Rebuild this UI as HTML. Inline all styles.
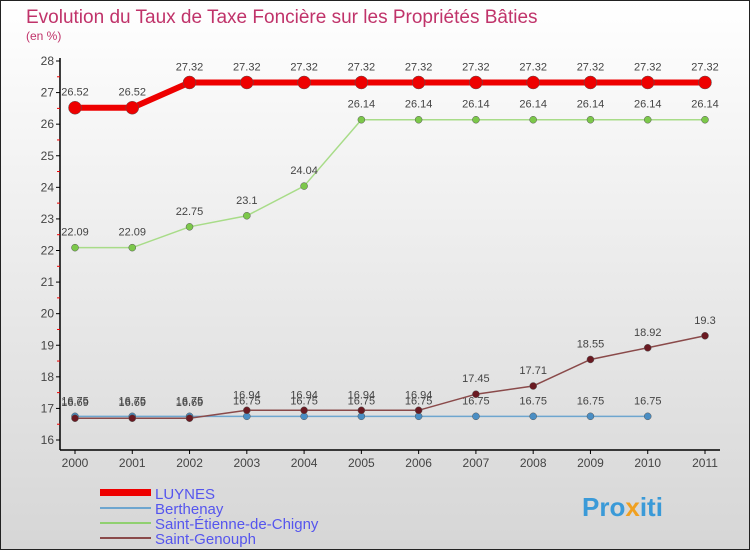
<!DOCTYPE html>
<html><head><meta charset="utf-8"><style>
body{margin:0;width:750px;height:550px;overflow:hidden;font-family:"Liberation Sans",sans-serif}
</style></head><body>
<svg width="750" height="550" xmlns="http://www.w3.org/2000/svg">
<defs><linearGradient id="bg" x1="0" y1="0" x2="0" y2="1"><stop offset="0" stop-color="#ffffff"/><stop offset="1" stop-color="#d6d6d6"/></linearGradient></defs>
<rect x="0.5" y="0.5" width="749" height="549" fill="url(#bg)" stroke="#222"/>
<text x="26" y="23" font-size="19" fill="#c0336a">Evolution du Taux de Taxe Foncière sur les Propriétés Bâties</text>
<text x="26" y="40" font-size="12" fill="#c0336a">(en %)</text>
<g id="axes"></g><g id="series"></g>
<g>
<rect x="100" y="489" width="51" height="7" fill="#e00"/>
<text x="155" y="499" font-size="15" fill="#5555ee">LUYNES</text>
<rect x="100" y="507" width="51" height="2" fill="#6ea6cf"/>
<text x="155" y="514" font-size="15" fill="#5555ee">Berthenay</text>
<rect x="100" y="522" width="51" height="2" fill="#90d070"/>
<text x="155" y="529" font-size="15" fill="#5555ee">Saint-Étienne-de-Chigny</text>
<rect x="100" y="537" width="51" height="2" fill="#8a4a4a"/>
<text x="155" y="544" font-size="15" fill="#5555ee">Saint-Genouph</text>
</g>
<text x="582" y="516" font-size="26" font-weight="bold" fill="#3a9ad8">Pro<tspan fill="#f0a020">x</tspan>iti</text>
</svg>
<script>
const years=[2000,2001,2002,2003,2004,2005,2006,2007,2008,2009,2010,2011];
const yTicks=[16,17,18,19,20,21,22,23,24,25,26,27,28];
const luynes=[26.52,26.52,27.32,27.32,27.32,27.32,27.32,27.32,27.32,27.32,27.32,27.32];
const berthenay=[16.75,16.75,16.75,16.75,16.75,16.75,16.75,16.75,16.75,16.75,16.75,null];
const etienne=[22.09,22.09,22.75,23.1,24.04,26.14,26.14,26.14,26.14,26.14,26.14,26.14];
const genouph=[16.69,16.69,16.69,16.94,16.94,16.94,16.94,17.45,17.71,18.55,18.92,19.3];
const NS="http://www.w3.org/2000/svg";
const X=i=>75+i*(630/11);
const Y=v=>440-(v-16)*(379/12);
function el(t,a,p){const e=document.createElementNS(NS,t);for(const k in a)e.setAttribute(k,a[k]);p.appendChild(e);return e;}
const ax=document.getElementById('axes');
el('line',{x1:60,y1:58,x2:60,y2:450,stroke:'#000','stroke-width':1.5},ax);
el('line',{x1:60,y1:450,x2:720,y2:450,stroke:'#000','stroke-width':1.5},ax);
yTicks.forEach(v=>{
 el('line',{x1:56,y1:Y(v),x2:60,y2:Y(v),stroke:'#000'},ax);
 if(v<28)el('line',{x1:57,y1:Y(v+0.5),x2:60,y2:Y(v+0.5),stroke:'#e00'},ax);
 const t=el('text',{x:54,y:Y(v)+4,'font-size':12,fill:'#444','text-anchor':'end'},ax);t.textContent=v;
 
 
});
years.forEach((y,i)=>{
 el('line',{x1:X(i),y1:450,x2:X(i),y2:454,stroke:'#000'},ax);
 const t=el('text',{x:X(i),y:467,'font-size':12,fill:'#444','text-anchor':'middle'},ax);t.textContent=y;
 
 
});
const sg=document.getElementById('series');
function series(vals,name,color,w,r,dot){
 const g=el('g',{},sg);
 
 
 const pts=vals.map((v,i)=>v==null?null:X(i)+','+Y(v)).filter(p=>p);
 el('polyline',{points:pts.join(' '),fill:'none',stroke:color,'stroke-width':w},g);
 vals.forEach((v,i)=>{if(v==null)return;
  const c=el('circle',{cx:X(i),cy:Y(v),r:r,fill:dot,stroke:'#555','stroke-width':0.5},g);
  
  
  const t=el('text',{x:X(i),y:Y(v)-12,'font-size':11,fill:'#444','text-anchor':'middle'},g);t.textContent=v;
 });
}
series(etienne,'series-saint-etienne','#a8dc88',1.5,3.5,'#7cc84a');
series(berthenay,'series-berthenay','#6ea6cf',1.5,3.5,'#4a8ec4');
series(genouph,'series-saint-genouph','#8a4a4a',1.5,3.5,'#6a1a22');
series(luynes,'series-luynes','#e00',6,6.5,'#e00');
</script>
</body></html>
